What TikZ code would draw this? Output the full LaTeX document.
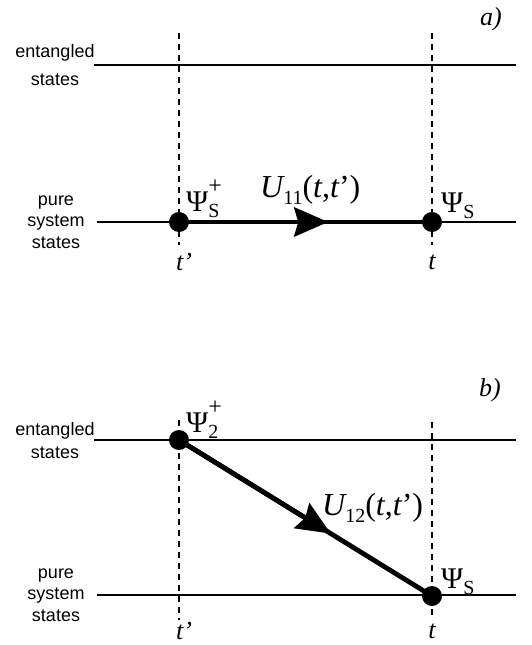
\documentclass[tikz,border=0pt]{standalone}
\usepackage{fontspec}
\setmainfont{Liberation Serif}
\newfontfamily\sanslabel{Liberation Sans}
\usepackage{tikz}
\usetikzlibrary{arrows.meta, positioning, calc}
\newcommand{\idx}[1]{\raisebox{-0.22em}{\fontsize{20}{20}\selectfont #1}}
\newcommand{\idxpm}[2]{\makebox[0pt][l]{\raisebox{0.58em}{\fontsize{24}{24}\selectfont #1}}\idx{#2}}
\newcommand{\tp}{{\itshape t}’}

\begin{document}
\begin{tikzpicture}[x=1pt, y=-1pt,
    level/.style={line width=2.8pt},
    timeline/.style={line width=1.7pt, dash pattern=on 6pt off 5pt},
    dot/.style={circle, fill=black, inner sep=0pt, minimum size=20pt},
    rowlbl/.style={font=\sanslabel\fontsize{18}{21.5}\selectfont, align=center},
    psilbl/.style={anchor=base west, inner sep=0pt, font=\fontsize{30}{30}\selectfont},
    ulbl/.style={anchor=base west, inner sep=0pt, font=\fontsize{32}{32}\selectfont},
    timelbl/.style={inner sep=0pt, font=\fontsize{26}{26}\selectfont\itshape},
    evol/.style={line width=4.8pt},
    headtip/.style={-{Stealth[length=34pt, width=29pt, inset=4pt]}}]
  \useasboundingbox (0,0) rectangle (531,645);

  % a) system stays pure
  \node[timelbl] (tagA) at (491,19) {a)};
  \node[rowlbl] (entA) at (55,65) {entangled\\[6pt]states};
  \node[rowlbl] (pureA) at (56,222) {pure\\system\\states};
  \coordinate (entAl) at (94,65);  \coordinate (entAr) at (516,65);
  \coordinate (pureAl) at (97,222); \coordinate (pureAr) at (516,222);
  \draw[level] (entAl) -- (entAr);
  \draw[level] (pureAl) -- (pureAr);
  \node[timelbl] (tpA) at (184,262) {\tp};
  \node[timelbl] (tA) at (432,262) {t};
  \coordinate (tpAtop) at (179,33); \coordinate (tpAbot) at (179,245);
  \coordinate (tAtop) at (432,33);  \coordinate (tAbot) at (432,245);
  \draw[timeline] (tpAtop) -- (tpAbot);
  \draw[timeline] (tAtop) -- (tAbot);
  \node[dot] (sA1) at (179,222) {};
  \node[dot] (sA2) at (432,222) {};
  \draw[evol] (sA1.center) -- (sA2.center);
  \draw[evol, headtip] (sA1.center) -- ($(sA1.center)!0.59!(sA2.center)$);
  \node[psilbl] (psiA1) at ([shift={(7,-11)}]sA1.center) {Ψ\idxpm{+}{S}};
  \node[psilbl] (psiA2) at ([shift={(9,-10)}]sA2.center) {Ψ\idx{S}};
  \node[ulbl] (uA) at (260,197) {{\itshape U}\idx{11}({\itshape t},\tp)};

  % b) system goes to entangled state
  \node[timelbl] (tagB) at (490,390) {b)};
  \node[rowlbl] (entB) at (55,441) {entangled\\[1.5pt]states};
  \node[rowlbl] (pureB) at (56,595) {pure\\system\\states};
  \coordinate (entBl) at (94,440);  \coordinate (entBr) at (516,440);
  \coordinate (pureBl) at (97,595); \coordinate (pureBr) at (516,595);
  \draw[level] (entBl) -- (entBr);
  \draw[level] (pureBl) -- (pureBr);
  \node[timelbl] (tpB) at (184,631) {\tp};
  \node[timelbl] (tB) at (432,631) {t};
  \coordinate (tpBtop) at (179,420); \coordinate (tpBbot) at (179,620);
  \coordinate (tBtop) at (432,422);  \coordinate (tBbot) at (432,617);
  \draw[timeline] (tpBtop) -- (tpBbot);
  \draw[timeline] (tBtop) -- (tBbot);
  \node[dot] (sB1) at (179,440) {};
  \node[dot] (sB2) at (432,596) {};
  \draw[evol] (sB1.center) -- (sB2.center);
  \draw[evol, headtip] (sB1.center) -- ($(sB1.center)!0.6!(sB2.center)$);
  \node[psilbl] (psiB1) at ([shift={(7,-8)}]sB1.center) {Ψ\idxpm{+}{2}};
  \node[psilbl] (psiB2) at ([shift={(9,-8)}]sB2.center) {Ψ\idx{S}};
  \node[ulbl] (uB) at (322,515) {{\itshape U}\idx{12}({\itshape t},\tp)};
\end{tikzpicture}
\end{document}
